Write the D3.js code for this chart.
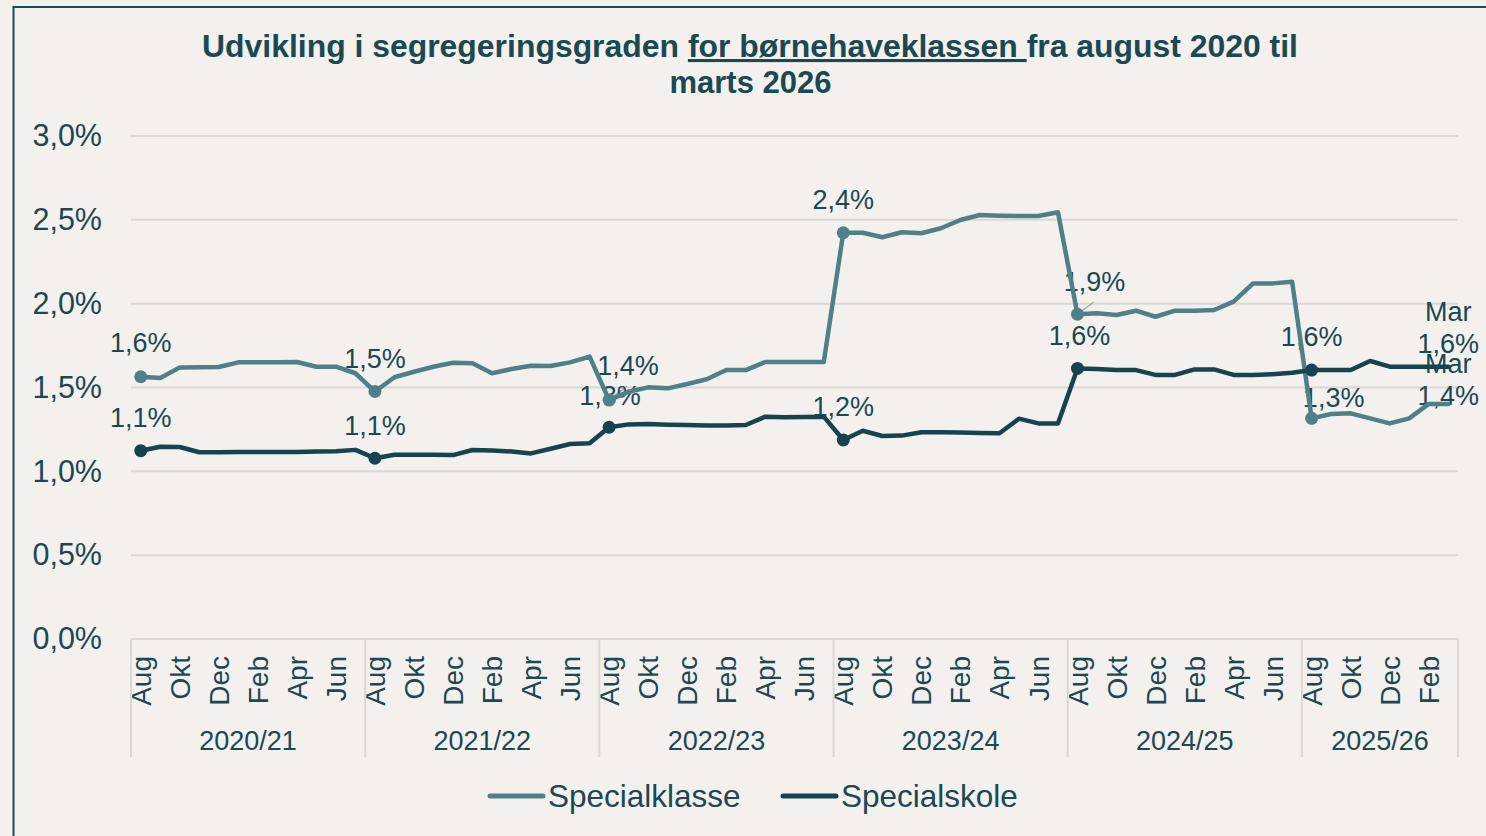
<!DOCTYPE html>
<html>
<head>
<meta charset="utf-8">
<script src="https://cdn.jsdelivr.net/npm/d3@7"></script>
<style>
  html, body { margin: 0; padding: 0; background: #f3f0ed; }
  svg { display: block; }
  text { font-family: "Liberation Sans", Arial, sans-serif; fill: #1a4853; }
</style>
</head>
<body>
<svg id="chart" width="1486" height="836"></svg>
<script>
// ---------------- DATA ----------------
const monthNames = ["Aug","Sep","Okt","Nov","Dec","Jan","Feb","Mar","Apr","Maj","Jun","Jul"];
const schoolYears = ["2020/21","2021/22","2022/23","2023/24","2024/25","2025/26"];
const monthsInYear = [12, 12, 12, 12, 12, 8];
const seriesNames = ["Specialklasse", "Specialskole"];
const yTicks = [0, 0.5, 1.0, 1.5, 2.0, 2.5, 3.0];

const specialklasse = [
  1.564, 1.557, 1.620, 1.621, 1.622, 1.650, 1.650, 1.650, 1.652, 1.624, 1.624, 1.585,
  1.476, 1.561, 1.594, 1.624, 1.648, 1.644, 1.585, 1.610, 1.630, 1.628, 1.650, 1.684,
  1.425, 1.475, 1.501, 1.495, 1.521, 1.549, 1.604, 1.604, 1.652, 1.652, 1.652, 1.652,
  2.423, 2.423, 2.396, 2.426, 2.420, 2.450, 2.499, 2.529, 2.525, 2.523, 2.523, 2.545,
  1.937, 1.943, 1.932, 1.958, 1.922, 1.958, 1.958, 1.962, 2.012, 2.121, 2.121, 2.131,
  1.316, 1.342, 1.346, 1.316, 1.286, 1.316, 1.402, 1.402
];
const specialskole = [
  1.123, 1.147, 1.145, 1.114, 1.114, 1.115, 1.116, 1.116, 1.115, 1.118, 1.120, 1.128,
  1.078, 1.099, 1.099, 1.099, 1.097, 1.127, 1.124, 1.118, 1.107, 1.135, 1.163, 1.167,
  1.263, 1.280, 1.282, 1.278, 1.276, 1.274, 1.274, 1.276, 1.326, 1.322, 1.324, 1.326,
  1.187, 1.242, 1.211, 1.213, 1.233, 1.233, 1.231, 1.229, 1.227, 1.314, 1.286, 1.286,
  1.614, 1.610, 1.604, 1.604, 1.575, 1.575, 1.608, 1.608, 1.575, 1.575, 1.579, 1.588,
  1.604, 1.604, 1.604, 1.658, 1.624, 1.624, 1.624, 1.624
];

// ---------------- LAYOUT / STYLE ----------------
const colors = ["#4f7f89", "#15434f"];
const textColor = "#1a4853";
const gridColor = "#dad8d6";

// label annotation layout (index in series, offsets relative to point, optional leader)
const labelLayout = [
  [ {i:0, dx:0, dy:-25}, {i:12, dx:0, dy:-24}, {i:24, dx:19, dy:-25, leader:true},
    {i:36, dx:0, dy:-24}, {i:48, dx:17, dy:-23, leader:true}, {i:60, dx:22, dy:-11},
    {i:67, dx:0, dy:1, last:true} ],
  [ {i:0, dx:0, dy:-24}, {i:12, dx:0, dy:-23}, {i:24, dx:1, dy:-22},
    {i:36, dx:0, dy:-24}, {i:48, dx:2, dy:-23}, {i:60, dx:0, dy:-24},
    {i:67, dx:0, dy:-14, last:true} ]
];

// ---------------- BUILD ----------------
const categories = [];
schoolYears.forEach((yr, yi) => {
  for (let m = 0; m < monthsInYear[yi]; m++) categories.push({ yi, m, month: monthNames[m] });
});
const series = [specialklasse, specialskole];

const svg = d3.select("#chart");
const pLeft = 131, pRight = 1458, pTop = 136, pBottom = 639;

const x = d3.scaleBand().domain(d3.range(categories.length)).range([pLeft, pRight]).padding(0);
const y = d3.scaleLinear().domain([0, 3.0]).range([pBottom, pTop]);
const cx = i => x(i) + x.bandwidth() / 2;
const fmt = v => v.toFixed(1).replace(".", ",") + "%";

// frame
svg.append("rect").attr("x", 13.5).attr("y", 7).attr("width", 1600).attr("height", 1000)
  .attr("fill", "none").attr("stroke", "#1d4955").attr("stroke-width", 2);

// title
const title = svg.append("text").attr("x", 750).attr("y", 57)
  .attr("text-anchor", "middle").style("font-weight", "bold").style("font-size", "31px")
  .attr("textLength", 1096).attr("lengthAdjust", "spacingAndGlyphs");
title.append("tspan").text("Udvikling i segregeringsgraden ");
title.append("tspan").style("text-decoration", "underline").text("for børnehaveklassen ");
title.append("tspan").text("fra august 2020 til");
svg.append("text").attr("x", 750.5).attr("y", 93)
  .attr("text-anchor", "middle").style("font-weight", "bold").style("font-size", "31px")
  .text("marts 2026");

// gridlines
svg.append("g").selectAll("line").data(yTicks).join("line")
  .attr("x1", pLeft).attr("x2", pRight)
  .attr("y1", d => y(d)).attr("y2", d => y(d))
  .attr("stroke", gridColor).attr("stroke-width", 2);

// y axis labels
const yAxis = svg.append("g").attr("transform", `translate(${pLeft},0)`)
  .call(d3.axisLeft(y).tickValues(yTicks).tickSize(0).tickPadding(29).tickFormat(fmt));
yAxis.select(".domain").remove();
yAxis.selectAll("text").style("font-size", "30.5px").attr("fill", textColor)
  .style("font-family", '"Liberation Sans", Arial, sans-serif');

// x axis month labels
const evenIdx = d3.range(categories.length).filter(i => categories[i].m % 2 === 0);
const xAxis = svg.append("g").attr("transform", `translate(0,${pBottom})`)
  .call(d3.axisBottom(x).tickValues(evenIdx).tickSize(0).tickFormat(i => categories[i].month));
xAxis.select(".domain").remove();
xAxis.selectAll("text")
  .attr("transform", "rotate(-90)").attr("text-anchor", "end")
  .attr("x", -17).attr("y", 0).attr("dy", "0.36em")
  .style("font-size", "28px").attr("fill", textColor)
  .style("font-family", '"Liberation Sans", Arial, sans-serif');

// year separators and labels
let start = 0;
const yearBounds = schoolYears.map((yr, yi) => {
  const b = { yr, s: start, e: start + monthsInYear[yi] - 1 };
  start += monthsInYear[yi];
  return b;
});
const sepX = yearBounds.map(b => x(b.s)).concat([x(yearBounds[yearBounds.length - 1].e) + x.bandwidth()]);
svg.append("g").selectAll("line").data(sepX).join("line")
  .attr("x1", d => d).attr("x2", d => d).attr("y1", pBottom).attr("y2", 757)
  .attr("stroke", gridColor).attr("stroke-width", 2);
svg.append("g").selectAll("text").data(yearBounds).join("text")
  .attr("x", b => (x(b.s) + x(b.e) + x.bandwidth()) / 2).attr("y", 750)
  .attr("text-anchor", "middle").style("font-size", "27px").attr("fill", textColor)
  .text(b => b.yr);

// data labels (drawn beneath the lines)
series.forEach((vals, si) => {
  const g = svg.append("g");
  labelLayout[si].forEach(l => {
    const px = cx(l.i), py = y(vals[l.i]);
    if (l.leader) {
      g.append("line").attr("x1", px).attr("y1", py)
        .attr("x2", px + l.dx - 1).attr("y2", py + l.dy + 11)
        .attr("stroke", "#a6a6a6").attr("stroke-width", 1.5);
    }
    const t = g.append("text").attr("text-anchor", "middle").style("font-size", "27px").attr("fill", textColor);
    if (l.last) {
      t.append("tspan").attr("x", px + l.dx).attr("y", py + l.dy - 32).text(categories[l.i].month);
      t.append("tspan").attr("x", px + l.dx).attr("y", py + l.dy).text(fmt(vals[l.i]));
    } else {
      t.attr("x", px + l.dx).attr("y", py + l.dy).text(fmt(vals[l.i]));
    }
  });
});

// lines and markers
const line = d3.line().x((d, i) => cx(i)).y(d => y(d));
series.forEach((vals, si) => {
  svg.append("path").datum(vals).attr("d", line)
    .attr("fill", "none").attr("stroke", colors[si]).attr("stroke-width", 4.5)
    .attr("stroke-linejoin", "round").attr("stroke-linecap", "round");
  svg.append("g").selectAll("circle")
    .data(labelLayout[si].filter(l => !l.last)).join("circle")
    .attr("cx", l => cx(l.i)).attr("cy", l => y(vals[l.i])).attr("r", 6.5)
    .attr("fill", colors[si]);
});

// legend
const legendItems = [{ x1: 490, x2: 543, tx: 548 }, { x1: 783, x2: 836, tx: 841 }];
legendItems.forEach((li, si) => {
  svg.append("line").attr("x1", li.x1).attr("x2", li.x2).attr("y1", 796).attr("y2", 796)
    .attr("stroke", colors[si]).attr("stroke-width", 5).attr("stroke-linecap", "round");
  svg.append("text").attr("x", li.tx).attr("y", 807).style("font-size", "31.5px").attr("fill", textColor)
    .text(seriesNames[si]);
});
</script>
</body>
</html>
